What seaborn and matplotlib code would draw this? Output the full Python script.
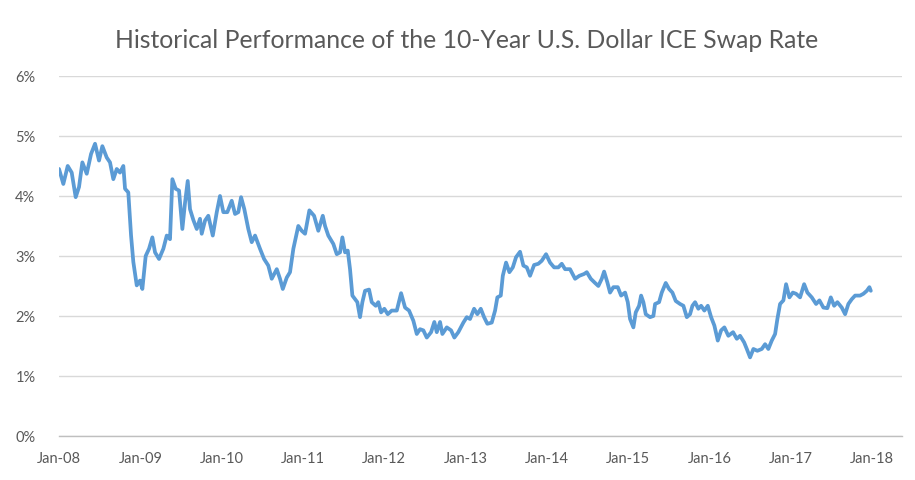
import seaborn as sns
import matplotlib.pyplot as plt
import matplotlib.dates as mdates
import matplotlib.ticker as mticker
import pandas as pd
import numpy as np

# decimal years and swap rate (%)
years = [
    2008.000, 2008.053, 2008.107, 2008.156, 2008.205, 2008.246, 2008.287, 2008.341, 2008.394, 2008.443,
    2008.492, 2008.533, 2008.587, 2008.627, 2008.668, 2008.710, 2008.750, 2008.791, 2008.812, 2008.852,
    2008.886, 2008.914, 2008.956, 2008.996, 2009.025, 2009.066, 2009.107, 2009.148, 2009.181, 2009.230,
    2009.283, 2009.325, 2009.365, 2009.394, 2009.435, 2009.476, 2009.517, 2009.550, 2009.583, 2009.611,
    2009.652, 2009.694, 2009.734, 2009.755, 2009.796, 2009.836, 2009.891, 2009.940, 2009.980, 2010.021,
    2010.070, 2010.124, 2010.165, 2010.205, 2010.239, 2010.279, 2010.328, 2010.370, 2010.411, 2010.472,
    2010.522, 2010.574, 2010.616, 2010.678, 2010.718, 2010.752, 2010.801, 2010.841, 2010.882, 2010.943,
    2010.985, 2011.026, 2011.079, 2011.137, 2011.189, 2011.244, 2011.272, 2011.312, 2011.374, 2011.416,
    2011.456, 2011.485, 2011.518, 2011.551, 2011.579, 2011.608, 2011.641, 2011.669, 2011.702, 2011.731,
    2011.764, 2011.813, 2011.846, 2011.895, 2011.927, 2011.961, 2012.001, 2012.043, 2012.092, 2012.154,
    2012.207, 2012.256, 2012.305, 2012.358, 2012.400, 2012.440, 2012.481, 2012.523, 2012.576, 2012.616,
    2012.646, 2012.686, 2012.715, 2012.769, 2012.822, 2012.862, 2012.911, 2012.973, 2013.015, 2013.055,
    2013.105, 2013.145, 2013.187, 2013.228, 2013.268, 2013.322, 2013.363, 2013.391, 2013.433, 2013.458,
    2013.498, 2013.539, 2013.581, 2013.621, 2013.670, 2013.711, 2013.753, 2013.793, 2013.843, 2013.895,
    2013.937, 2013.990, 2014.039, 2014.089, 2014.141, 2014.183, 2014.224, 2014.285, 2014.347, 2014.400,
    2014.458, 2014.491, 2014.540, 2014.593, 2014.633, 2014.675, 2014.704, 2014.744, 2014.777, 2014.818,
    2014.872, 2014.913, 2014.962, 2014.995, 2015.023, 2015.064, 2015.093, 2015.134, 2015.159, 2015.187,
    2015.216, 2015.269, 2015.310, 2015.331, 2015.380, 2015.413, 2015.462, 2015.503, 2015.544, 2015.585,
    2015.638, 2015.679, 2015.721, 2015.761, 2015.790, 2015.823, 2015.863, 2015.897, 2015.937, 2015.979,
    2016.020, 2016.060, 2016.102, 2016.143, 2016.183, 2016.232, 2016.290, 2016.336, 2016.376, 2016.426,
    2016.459, 2016.499, 2016.540, 2016.589, 2016.643, 2016.684, 2016.724, 2016.766, 2016.807, 2016.835,
    2016.868, 2016.909, 2016.942, 2016.983, 2017.025, 2017.065, 2017.114, 2017.164, 2017.204, 2017.258,
    2017.311, 2017.352, 2017.401, 2017.450, 2017.492, 2017.533, 2017.573, 2017.627, 2017.668, 2017.708,
    2017.750, 2017.791, 2017.852, 2017.893, 2017.935, 2017.967, 2017.984,
]
rate = [
    4.45, 4.20, 4.50, 4.39, 3.98, 4.15, 4.56, 4.37, 4.70, 4.87,
    4.59, 4.83, 4.64, 4.56, 4.28, 4.45, 4.39, 4.50, 4.12, 4.06,
    3.34, 2.90, 2.51, 2.59, 2.45, 3.00, 3.12, 3.31, 3.06, 2.95,
    3.12, 3.34, 3.28, 4.28, 4.12, 4.09, 3.45, 3.89, 4.25, 3.78,
    3.60, 3.45, 3.62, 3.37, 3.59, 3.67, 3.34, 3.73, 4.00, 3.73,
    3.73, 3.92, 3.70, 3.73, 3.98, 3.78, 3.45, 3.23, 3.34, 3.12,
    2.95, 2.84, 2.62, 2.78, 2.62, 2.45, 2.64, 2.73, 3.12, 3.50,
    3.42, 3.37, 3.76, 3.67, 3.42, 3.67, 3.50, 3.34, 3.20, 3.03,
    3.06, 3.31, 3.06, 3.09, 2.78, 2.34, 2.28, 2.23, 1.98, 2.23,
    2.42, 2.44, 2.23, 2.17, 2.23, 2.06, 2.12, 2.03, 2.09, 2.09,
    2.38, 2.14, 2.09, 1.92, 1.70, 1.78, 1.76, 1.64, 1.73, 1.90,
    1.73, 1.90, 1.70, 1.81, 1.76, 1.64, 1.73, 1.89, 1.98, 1.95,
    2.12, 2.03, 2.12, 1.98, 1.87, 1.89, 2.09, 2.31, 2.34, 2.67,
    2.89, 2.73, 2.81, 2.98, 3.07, 2.84, 2.81, 2.67, 2.85, 2.87,
    2.92, 3.03, 2.89, 2.81, 2.81, 2.87, 2.78, 2.78, 2.62, 2.67,
    2.70, 2.73, 2.62, 2.55, 2.50, 2.62, 2.74, 2.56, 2.39, 2.48,
    2.48, 2.34, 2.39, 2.23, 1.95, 1.81, 2.06, 2.17, 2.34, 2.23,
    2.03, 1.98, 2.00, 2.20, 2.23, 2.39, 2.55, 2.45, 2.39, 2.25,
    2.20, 2.17, 1.98, 2.03, 2.17, 2.23, 2.12, 2.17, 2.09, 2.17,
    1.98, 1.84, 1.59, 1.76, 1.81, 1.67, 1.73, 1.62, 1.67, 1.56,
    1.45, 1.31, 1.45, 1.42, 1.45, 1.53, 1.45, 1.59, 1.70, 1.95,
    2.20, 2.26, 2.53, 2.31, 2.39, 2.37, 2.31, 2.53, 2.39, 2.31,
    2.20, 2.26, 2.14, 2.13, 2.31, 2.17, 2.23, 2.14, 2.03, 2.20,
    2.28, 2.34, 2.34, 2.37, 2.42, 2.48, 2.42,
]
tick_years = list(range(2008, 2019))
y_ticks = [0, 1, 2, 3, 4, 5, 6]
title = 'Historical Performance of the 10-Year U.S. Dollar ICE Swap Rate'


def to_date(y):
    return pd.Timestamp('2008-01-01') + pd.to_timedelta((y - 2008) * 365.25, unit='D')


df = pd.DataFrame({'date': [to_date(y) for y in years], 'rate': rate})

sns.set_style('white')
plt.rcParams['font.family'] = ['Lato', 'DejaVu Sans']

fig = plt.figure(figsize=(9.15, 4.81), dpi=100)
ax = fig.add_axes([0.0645, 0.0915, 0.9215, 0.7485])

sns.lineplot(data=df, x='date', y='rate', color='#5B9BD5', linewidth=2.7, ax=ax)

ax.set_ylim(0, 6)
ax.set_xlim(to_date(2008.0), to_date(2018.37))
ax.set_yticks(y_ticks)
ax.yaxis.set_major_formatter(mticker.FuncFormatter(lambda v, p: f'{v:.0f}%'))
ax.set_xticks([pd.Timestamp(f'{y}-01-01') for y in tick_years])
ax.xaxis.set_major_formatter(mdates.DateFormatter('%b-%y'))

ax.grid(axis='y', color='#D9D9D9', linewidth=1)
ax.set_axisbelow(True)
for s in ['left', 'right', 'top']:
    ax.spines[s].set_visible(False)
ax.spines['bottom'].set_color('#BFBFBF')
ax.spines['bottom'].set_linewidth(1)

ax.tick_params(axis='x', colors='#BFBFBF', length=5, width=1, labelcolor='#595959', labelsize=10.5, pad=6)
ax.tick_params(axis='y', length=0, labelcolor='#595959', labelsize=10.5, pad=17)
ax.set_xlabel('')
ax.set_ylabel('')

fig.text(0.51, 0.915, title, ha='center', va='center', fontsize=17.8, color='#595959')

fig.savefig('out.png', dpi=100)
